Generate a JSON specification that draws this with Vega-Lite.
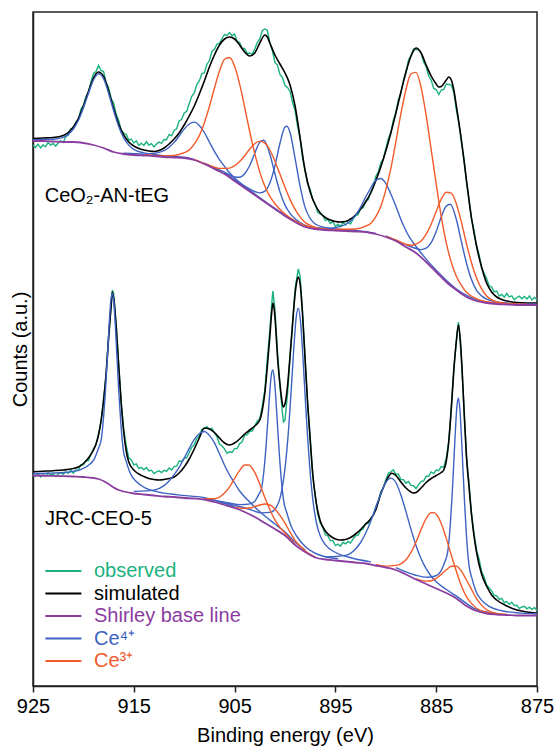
{
"$schema":"https://vega.github.io/schema/vega-lite/v6.json",
"width":504,"height":674,
"autosize":{"type":"none"},
"padding":{"left":33,"top":12,"right":21,"bottom":61},
"config":{"font":"Liberation Sans","view":{"stroke":"#222","strokeWidth":1.5},"axis":{"grid":false}},
"datasets":{
"obs":[
{"s":"t","e":925,"v":541},{"s":"t","e":924.75,"v":538.6},{"s":"t","e":924.5,"v":541.8},{"s":"t","e":924.25,"v":538.2},{"s":"t","e":924,"v":541},{"s":"t","e":923.75,"v":539.2},{"s":"t","e":923.5,"v":543.5},{"s":"t","e":923.25,"v":540.8},{"s":"t","e":923,"v":542.5},{"s":"t","e":922.75,"v":539.8},{"s":"t","e":922.5,"v":543},{"s":"t","e":922.25,"v":545.3},{"s":"t","e":922,"v":543.5},{"s":"t","e":921.75,"v":549.6},{"s":"t","e":921.5,"v":550.8},{"s":"t","e":921.25,"v":557.4},{"s":"t","e":921,"v":557},{"s":"t","e":920.75,"v":563.8},{"s":"t","e":920.5,"v":566.5},{"s":"t","e":920.25,"v":576.8},{"s":"t","e":920,"v":580.5},{"s":"t","e":919.75,"v":589.5},{"s":"t","e":919.5,"v":594},{"s":"t","e":919.25,"v":604},{"s":"t","e":919,"v":612.5},{"s":"t","e":918.75,"v":614.5},{"s":"t","e":918.5,"v":620.5},{"s":"t","e":918.25,"v":615.5},{"s":"t","e":918,"v":614.5},{"s":"t","e":917.75,"v":603.5},{"s":"t","e":917.5,"v":598.5},{"s":"t","e":917.25,"v":587.5},{"s":"t","e":917,"v":583},{"s":"t","e":916.75,"v":571.7},{"s":"t","e":916.5,"v":565.5},{"s":"t","e":916.25,"v":555.7},{"s":"t","e":916,"v":553},{"s":"t","e":915.75,"v":551.5},{"s":"t","e":915.5,"v":546},{"s":"t","e":915.25,"v":547},{"s":"t","e":915,"v":543},{"s":"t","e":914.75,"v":545.2},{"s":"t","e":914.5,"v":540.5},{"s":"t","e":914.25,"v":542.7},{"s":"t","e":914,"v":540.5},{"s":"t","e":913.75,"v":544.2},{"s":"t","e":913.5,"v":541},{"s":"t","e":913.25,"v":542.4},{"s":"t","e":913,"v":539},{"s":"t","e":912.75,"v":541.9},{"s":"t","e":912.5,"v":544},{"s":"t","e":912.25,"v":542.7},{"s":"t","e":912,"v":546.5},{"s":"t","e":911.75,"v":546.2},{"s":"t","e":911.5,"v":551.5},{"s":"t","e":911.25,"v":550.2},{"s":"t","e":911,"v":555.5},{"s":"t","e":910.75,"v":557.2},{"s":"t","e":910.5,"v":565},{"s":"t","e":910.25,"v":566.7},{"s":"t","e":910,"v":573},{"s":"t","e":909.75,"v":574.7},{"s":"t","e":909.5,"v":582.5},{"s":"t","e":909.25,"v":589.7},{"s":"t","e":909,"v":593},{"s":"t","e":908.75,"v":601.5},{"s":"t","e":908.5,"v":605},{"s":"t","e":908.25,"v":612.5},{"s":"t","e":908,"v":613},{"s":"t","e":907.75,"v":621.5},{"s":"t","e":907.5,"v":625.5},{"s":"t","e":907.25,"v":634.5},{"s":"t","e":907,"v":636.5},{"s":"t","e":906.75,"v":642},{"s":"t","e":906.5,"v":642.5},{"s":"t","e":906.25,"v":647.5},{"s":"t","e":906,"v":651.5},{"s":"t","e":905.75,"v":650.5},{"s":"t","e":905.5,"v":653.5},{"s":"t","e":905.25,"v":650.3},{"s":"t","e":905,"v":652},{"s":"t","e":904.75,"v":644.5},{"s":"t","e":904.5,"v":643.5},{"s":"t","e":904.25,"v":637.5},{"s":"t","e":904,"v":637.5},{"s":"t","e":903.75,"v":632.5},{"s":"t","e":903.5,"v":633},{"s":"t","e":903.25,"v":631.5},{"s":"t","e":903,"v":637},{"s":"t","e":902.75,"v":643.5},{"s":"t","e":902.5,"v":647},{"s":"t","e":902.25,"v":655.5},{"s":"t","e":902,"v":657},{"s":"t","e":901.75,"v":655.5},{"s":"t","e":901.5,"v":643},{"s":"t","e":901.25,"v":635.5},{"s":"t","e":901,"v":623.5},{"s":"t","e":900.75,"v":621},{"s":"t","e":900.5,"v":611.5},{"s":"t","e":900.25,"v":608.5},{"s":"t","e":900,"v":600.5},{"s":"t","e":899.75,"v":598.5},{"s":"t","e":899.5,"v":594.5},{"s":"t","e":899.25,"v":583.5},{"s":"t","e":899,"v":575.5},{"s":"t","e":898.75,"v":559.5},{"s":"t","e":898.5,"v":547},{"s":"t","e":898.25,"v":527.5},{"s":"t","e":898,"v":515.5},{"s":"t","e":897.75,"v":502},{"s":"t","e":897.5,"v":496.5},{"s":"t","e":897.25,"v":486.5},{"s":"t","e":897,"v":482},{"s":"t","e":896.75,"v":473.5},{"s":"t","e":896.5,"v":472},{"s":"t","e":896.25,"v":470.5},{"s":"t","e":896,"v":465.5},{"s":"t","e":895.75,"v":466.3},{"s":"t","e":895.5,"v":462.5},{"s":"t","e":895.25,"v":464.5},{"s":"t","e":895,"v":459.5},{"s":"t","e":894.75,"v":461.7},{"s":"t","e":894.5,"v":459.5},{"s":"t","e":894.25,"v":463.7},{"s":"t","e":894,"v":461},{"s":"t","e":893.75,"v":463.8},{"s":"t","e":893.5,"v":462},{"s":"t","e":893.25,"v":466.8},{"s":"t","e":893,"v":470.5},{"s":"t","e":892.75,"v":471.3},{"s":"t","e":892.5,"v":477},{"s":"t","e":892.25,"v":478.3},{"s":"t","e":892,"v":485},{"s":"t","e":891.75,"v":486.3},{"s":"t","e":891.5,"v":494},{"s":"t","e":891.25,"v":498.7},{"s":"t","e":891,"v":509.5},{"s":"t","e":890.75,"v":514},{"s":"t","e":890.5,"v":523},{"s":"t","e":890.25,"v":527},{"s":"t","e":890,"v":537},{"s":"t","e":889.75,"v":547.2},{"s":"t","e":889.5,"v":553.5},{"s":"t","e":889.25,"v":565.7},{"s":"t","e":889,"v":573},{"s":"t","e":888.75,"v":586.5},{"s":"t","e":888.5,"v":593},{"s":"t","e":888.25,"v":605.5},{"s":"t","e":888,"v":613.5},{"s":"t","e":887.75,"v":626},{"s":"t","e":887.5,"v":630.5},{"s":"t","e":887.25,"v":637},{"s":"t","e":887,"v":636.5},{"s":"t","e":886.75,"v":636.5},{"s":"t","e":886.5,"v":633.5},{"s":"t","e":886.25,"v":624},{"s":"t","e":886,"v":619.5},{"s":"t","e":885.75,"v":610},{"s":"t","e":885.5,"v":606},{"s":"t","e":885.25,"v":597.5},{"s":"t","e":885,"v":596.5},{"s":"t","e":884.75,"v":591.5},{"s":"t","e":884.5,"v":596},{"s":"t","e":884.25,"v":596.5},{"s":"t","e":884,"v":602},{"s":"t","e":883.75,"v":601.5},{"s":"t","e":883.5,"v":601},{"s":"t","e":883.25,"v":593.5},{"s":"t","e":883,"v":576},{"s":"t","e":882.75,"v":562.3},{"s":"t","e":882.5,"v":543.5},{"s":"t","e":882.25,"v":527.3},{"s":"t","e":882,"v":504},{"s":"t","e":881.75,"v":486.7},{"s":"t","e":881.5,"v":467},{"s":"t","e":881.25,"v":456.2},{"s":"t","e":881,"v":440.5},{"s":"t","e":880.75,"v":431.5},{"s":"t","e":880.5,"v":418.5},{"s":"t","e":880.25,"v":413},{"s":"t","e":880,"v":407.5},{"s":"t","e":879.75,"v":400.2},{"s":"t","e":879.5,"v":399},{"s":"t","e":879.25,"v":394.2},{"s":"t","e":879,"v":395},{"s":"t","e":878.75,"v":389.9},{"s":"t","e":878.5,"v":391.5},{"s":"t","e":878.25,"v":388.9},{"s":"t","e":878,"v":392.5},{"s":"t","e":877.75,"v":389.1},{"s":"t","e":877.5,"v":390.2},{"s":"t","e":877.25,"v":386.3},{"s":"t","e":877,"v":388.5},{"s":"t","e":876.75,"v":389.8},{"s":"t","e":876.5,"v":387.2},{"s":"t","e":876.25,"v":389.6},{"s":"t","e":876,"v":387},{"s":"t","e":875.75,"v":390},{"s":"t","e":875.5,"v":386},{"s":"t","e":875.25,"v":388.5},{"s":"t","e":875,"v":386.5},
{"s":"b","e":925,"v":211.5},{"s":"b","e":924.75,"v":209.6},{"s":"b","e":924.5,"v":212.2},{"s":"b","e":924.25,"v":209.1},{"s":"b","e":924,"v":211.2},{"s":"b","e":923.75,"v":209.7},{"s":"b","e":923.5,"v":213.1},{"s":"b","e":923.25,"v":210.8},{"s":"b","e":923,"v":212.1},{"s":"b","e":922.75,"v":209.6},{"s":"b","e":922.5,"v":211.9},{"s":"b","e":922.25,"v":213.4},{"s":"b","e":922,"v":211.7},{"s":"b","e":921.75,"v":214.2},{"s":"b","e":921.5,"v":212.7},{"s":"b","e":921.25,"v":215.6},{"s":"b","e":921,"v":212.9},{"s":"b","e":920.75,"v":216.1},{"s":"b","e":920.5,"v":215.8},{"s":"b","e":920.25,"v":221.2},{"s":"b","e":920,"v":221.1},{"s":"b","e":919.75,"v":225.3},{"s":"b","e":919.5,"v":225.5},{"s":"b","e":919.25,"v":231.8},{"s":"b","e":919,"v":237.2},{"s":"b","e":918.75,"v":241.2},{"s":"b","e":918.5,"v":252.2},{"s":"b","e":918.25,"v":264.2},{"s":"b","e":918,"v":286.6},{"s":"b","e":917.75,"v":310.9},{"s":"b","e":917.5,"v":349.4},{"s":"b","e":917.25,"v":380.3},{"s":"b","e":917.125,"v":396},{"s":"b","e":917,"v":392},{"s":"b","e":916.75,"v":361.6},{"s":"b","e":916.5,"v":322.8},{"s":"b","e":916.25,"v":283.5},{"s":"b","e":916,"v":257},{"s":"b","e":915.75,"v":240.2},{"s":"b","e":915.5,"v":228.2},{"s":"b","e":915.25,"v":226.2},{"s":"b","e":915,"v":221.2},{"s":"b","e":914.75,"v":222.1},{"s":"b","e":914.5,"v":217.4},{"s":"b","e":914.25,"v":218.6},{"s":"b","e":914,"v":216.3},{"s":"b","e":913.75,"v":218.5},{"s":"b","e":913.5,"v":215.1},{"s":"b","e":913.25,"v":215.8},{"s":"b","e":913,"v":212.5},{"s":"b","e":912.75,"v":214.2},{"s":"b","e":912.5,"v":215.2},{"s":"b","e":912.25,"v":213.4},{"s":"b","e":912,"v":215.7},{"s":"b","e":911.75,"v":214.7},{"s":"b","e":911.5,"v":218.1},{"s":"b","e":911.25,"v":216.1},{"s":"b","e":911,"v":219.4},{"s":"b","e":910.75,"v":219.8},{"s":"b","e":910.5,"v":225},{"s":"b","e":910.25,"v":224.6},{"s":"b","e":910,"v":227.8},{"s":"b","e":909.75,"v":228.2},{"s":"b","e":909.5,"v":233.5},{"s":"b","e":909.25,"v":238.9},{"s":"b","e":909,"v":241.2},{"s":"b","e":908.75,"v":247.7},{"s":"b","e":908.5,"v":250.2},{"s":"b","e":908.25,"v":256.6},{"s":"b","e":908,"v":257.4},{"s":"b","e":907.75,"v":259.4},{"s":"b","e":907.5,"v":256.8},{"s":"b","e":907.25,"v":257.7},{"s":"b","e":907,"v":253.1},{"s":"b","e":906.75,"v":249.5},{"s":"b","e":906.5,"v":242},{"s":"b","e":906.25,"v":240},{"s":"b","e":906,"v":237.2},{"s":"b","e":905.75,"v":232.7},{"s":"b","e":905.5,"v":234.2},{"s":"b","e":905.25,"v":233.5},{"s":"b","e":905,"v":237.6},{"s":"b","e":904.75,"v":237.4},{"s":"b","e":904.5,"v":242.4},{"s":"b","e":904.25,"v":244.3},{"s":"b","e":904,"v":251},{"s":"b","e":903.75,"v":251.1},{"s":"b","e":903.5,"v":254.8},{"s":"b","e":903.25,"v":255},{"s":"b","e":903,"v":260},{"s":"b","e":902.75,"v":265},{"s":"b","e":902.5,"v":267.2},{"s":"b","e":902.25,"v":280.2},{"s":"b","e":902,"v":296.2},{"s":"b","e":901.75,"v":327.6},{"s":"b","e":901.5,"v":356.4},{"s":"b","e":901.25,"v":390.4},{"s":"b","e":901.2,"v":395},{"s":"b","e":901,"v":376.8},{"s":"b","e":900.75,"v":335},{"s":"b","e":900.5,"v":299.6},{"s":"b","e":900.25,"v":272.8},{"s":"b","e":900.15,"v":264},{"s":"b","e":900,"v":266},{"s":"b","e":899.75,"v":292},{"s":"b","e":899.5,"v":329.2},{"s":"b","e":899.25,"v":362.2},{"s":"b","e":899,"v":397.2},{"s":"b","e":898.75,"v":413.2},{"s":"b","e":898.68,"v":417},{"s":"b","e":898.5,"v":409.6},{"s":"b","e":898.25,"v":372.4},{"s":"b","e":898,"v":327.4},{"s":"b","e":897.75,"v":281.8},{"s":"b","e":897.5,"v":248},{"s":"b","e":897.25,"v":211.6},{"s":"b","e":897,"v":190.8},{"s":"b","e":896.75,"v":172},{"s":"b","e":896.5,"v":163},{"s":"b","e":896.25,"v":158.7},{"s":"b","e":896,"v":151.2},{"s":"b","e":895.75,"v":150.2},{"s":"b","e":895.5,"v":145.2},{"s":"b","e":895.25,"v":145.6},{"s":"b","e":895,"v":140.4},{"s":"b","e":894.75,"v":141.9},{"s":"b","e":894.5,"v":139.8},{"s":"b","e":894.25,"v":143.7},{"s":"b","e":894,"v":142.1},{"s":"b","e":893.75,"v":144.6},{"s":"b","e":893.5,"v":143},{"s":"b","e":893.25,"v":147},{"s":"b","e":893,"v":150.2},{"s":"b","e":892.75,"v":150.9},{"s":"b","e":892.5,"v":155.7},{"s":"b","e":892.25,"v":156.9},{"s":"b","e":892,"v":162.6},{"s":"b","e":891.75,"v":162.4},{"s":"b","e":891.5,"v":167.4},{"s":"b","e":891.25,"v":170.3},{"s":"b","e":891,"v":179},{"s":"b","e":890.75,"v":184.8},{"s":"b","e":890.5,"v":194.3},{"s":"b","e":890.25,"v":198.2},{"s":"b","e":890,"v":206},{"s":"b","e":889.75,"v":212.7},{"s":"b","e":889.5,"v":214.2},{"s":"b","e":889.25,"v":216.1},{"s":"b","e":889,"v":211.7},{"s":"b","e":888.75,"v":211.8},{"s":"b","e":888.5,"v":206.4},{"s":"b","e":888.25,"v":206.4},{"s":"b","e":888,"v":202.8},{"s":"b","e":887.75,"v":204.5},{"s":"b","e":887.5,"v":200.6},{"s":"b","e":887.25,"v":200.3},{"s":"b","e":887,"v":197.5},{"s":"b","e":886.75,"v":201.4},{"s":"b","e":886.5,"v":204.7},{"s":"b","e":886.25,"v":205.1},{"s":"b","e":886,"v":209.7},{"s":"b","e":885.75,"v":209.7},{"s":"b","e":885.5,"v":214.1},{"s":"b","e":885.25,"v":212.4},{"s":"b","e":885,"v":215.9},{"s":"b","e":884.75,"v":215.3},{"s":"b","e":884.5,"v":219.5},{"s":"b","e":884.25,"v":218.6},{"s":"b","e":884,"v":227.8},{"s":"b","e":883.75,"v":244.5},{"s":"b","e":883.5,"v":278},{"s":"b","e":883.25,"v":317.2},{"s":"b","e":883,"v":344.7},{"s":"b","e":882.8,"v":364},{"s":"b","e":882.75,"v":361.2},{"s":"b","e":882.5,"v":327.2},{"s":"b","e":882.25,"v":279.7},{"s":"b","e":882,"v":230.2},{"s":"b","e":881.75,"v":203.1},{"s":"b","e":881.5,"v":172.4},{"s":"b","e":881.25,"v":152.9},{"s":"b","e":881,"v":135.8},{"s":"b","e":880.75,"v":127},{"s":"b","e":880.5,"v":114.6},{"s":"b","e":880.25,"v":109.3},{"s":"b","e":880,"v":101},{"s":"b","e":879.75,"v":98},{"s":"b","e":879.5,"v":95.2},{"s":"b","e":879.25,"v":90.7},{"s":"b","e":879,"v":90.2},{"s":"b","e":878.75,"v":86.6},{"s":"b","e":878.5,"v":87.6},{"s":"b","e":878.25,"v":83.3},{"s":"b","e":878,"v":84.4},{"s":"b","e":877.75,"v":81.6},{"s":"b","e":877.5,"v":83.7},{"s":"b","e":877.25,"v":80.4},{"s":"b","e":877,"v":80.8},{"s":"b","e":876.75,"v":77.5},{"s":"b","e":876.5,"v":79},{"s":"b","e":876.25,"v":79.7},{"s":"b","e":876,"v":77.2},{"s":"b","e":875.75,"v":78.8},{"s":"b","e":875.5,"v":76.5},{"s":"b","e":875.25,"v":78.6},{"s":"b","e":875,"v":75.1}
],
"sim":[
{"s":"t","e":925,"v":547.5},{"s":"t","e":924,"v":548},{"s":"t","e":923,"v":548.5},{"s":"t","e":922,"v":550.5},{"s":"t","e":921,"v":559},{"s":"t","e":920.5,"v":567.5},{"s":"t","e":920,"v":580},{"s":"t","e":919.5,"v":594.5},{"s":"t","e":919,"v":608},{"s":"t","e":918.5,"v":614},{"s":"t","e":918,"v":609.5},{"s":"t","e":917.5,"v":595},{"s":"t","e":917,"v":577.5},{"s":"t","e":916.5,"v":562},{"s":"t","e":916,"v":551},{"s":"t","e":915.5,"v":544},{"s":"t","e":915,"v":540},{"s":"t","e":914.5,"v":537.5},{"s":"t","e":914,"v":536},{"s":"t","e":913.5,"v":535},{"s":"t","e":913,"v":534.5},{"s":"t","e":912.5,"v":535.5},{"s":"t","e":912,"v":538},{"s":"t","e":911.5,"v":542},{"s":"t","e":911,"v":547},{"s":"t","e":910.5,"v":553},{"s":"t","e":910,"v":561},{"s":"t","e":909.5,"v":570},{"s":"t","e":909,"v":580},{"s":"t","e":908.5,"v":592},{"s":"t","e":908,"v":605},{"s":"t","e":907.5,"v":619},{"s":"t","e":907,"v":631},{"s":"t","e":906.5,"v":641},{"s":"t","e":906,"v":647},{"s":"t","e":905.5,"v":649},{"s":"t","e":905,"v":647},{"s":"t","e":904.5,"v":641},{"s":"t","e":904,"v":634},{"s":"t","e":903.5,"v":630},{"s":"t","e":903,"v":633},{"s":"t","e":902.5,"v":643},{"s":"t","e":902,"v":651},{"s":"t","e":901.75,"v":649},{"s":"t","e":901.5,"v":643},{"s":"t","e":901,"v":631},{"s":"t","e":900.5,"v":622},{"s":"t","e":900,"v":613},{"s":"t","e":899.5,"v":601},{"s":"t","e":899,"v":580},{"s":"t","e":898.5,"v":548},{"s":"t","e":898,"v":515},{"s":"t","e":897.5,"v":494},{"s":"t","e":897,"v":481},{"s":"t","e":896.5,"v":473},{"s":"t","e":896,"v":468.5},{"s":"t","e":895.5,"v":466},{"s":"t","e":895,"v":464.5},{"s":"t","e":894.5,"v":464},{"s":"t","e":894,"v":464.5},{"s":"t","e":893.5,"v":467},{"s":"t","e":893,"v":471},{"s":"t","e":892.5,"v":477},{"s":"t","e":892,"v":484},{"s":"t","e":891.5,"v":493},{"s":"t","e":891,"v":505},{"s":"t","e":890.5,"v":519},{"s":"t","e":890,"v":535},{"s":"t","e":889.5,"v":553},{"s":"t","e":889,"v":573},{"s":"t","e":888.5,"v":594},{"s":"t","e":888,"v":614},{"s":"t","e":887.5,"v":630},{"s":"t","e":887,"v":638},{"s":"t","e":886.5,"v":633},{"s":"t","e":886,"v":621},{"s":"t","e":885.5,"v":610},{"s":"t","e":885,"v":602},{"s":"t","e":884.75,"v":599},{"s":"t","e":884.5,"v":599.5},{"s":"t","e":884,"v":606},{"s":"t","e":883.75,"v":609},{"s":"t","e":883.5,"v":606},{"s":"t","e":883.25,"v":596},{"s":"t","e":883,"v":580},{"s":"t","e":882.5,"v":546},{"s":"t","e":882,"v":506},{"s":"t","e":881.5,"v":468},{"s":"t","e":881,"v":440},{"s":"t","e":880.5,"v":419},{"s":"t","e":880,"v":403},{"s":"t","e":879.5,"v":394},{"s":"t","e":879,"v":389},{"s":"t","e":878.5,"v":386.5},{"s":"t","e":878,"v":385},{"s":"t","e":877,"v":383.5},{"s":"t","e":876,"v":383},{"s":"t","e":875,"v":383},
{"s":"b","e":925,"v":214.3},{"s":"b","e":924,"v":214.8},{"s":"b","e":923,"v":215.3},{"s":"b","e":922,"v":216},{"s":"b","e":921,"v":217.5},{"s":"b","e":920.5,"v":219},{"s":"b","e":920,"v":222.5},{"s":"b","e":919.5,"v":228},{"s":"b","e":919,"v":236},{"s":"b","e":918.75,"v":242},{"s":"b","e":918.5,"v":251},{"s":"b","e":918.25,"v":265},{"s":"b","e":918,"v":285},{"s":"b","e":917.75,"v":312},{"s":"b","e":917.5,"v":348},{"s":"b","e":917.25,"v":380},{"s":"b","e":917.13,"v":394},{"s":"b","e":917,"v":388},{"s":"b","e":916.75,"v":360},{"s":"b","e":916.5,"v":320},{"s":"b","e":916.25,"v":283},{"s":"b","e":916,"v":254},{"s":"b","e":915.75,"v":235},{"s":"b","e":915.5,"v":224},{"s":"b","e":915,"v":216},{"s":"b","e":914.5,"v":212},{"s":"b","e":914,"v":209.5},{"s":"b","e":913.5,"v":207.5},{"s":"b","e":913,"v":206.5},{"s":"b","e":912.5,"v":206},{"s":"b","e":912,"v":206.5},{"s":"b","e":911.5,"v":207.5},{"s":"b","e":911,"v":209},{"s":"b","e":910.5,"v":213},{"s":"b","e":910,"v":219},{"s":"b","e":909.5,"v":227},{"s":"b","e":909,"v":237},{"s":"b","e":908.5,"v":248},{"s":"b","e":908,"v":258},{"s":"b","e":907.5,"v":257},{"s":"b","e":907,"v":253.5},{"s":"b","e":906.5,"v":248},{"s":"b","e":906,"v":243},{"s":"b","e":905.5,"v":241},{"s":"b","e":905,"v":243},{"s":"b","e":904.5,"v":247},{"s":"b","e":904,"v":252},{"s":"b","e":903.5,"v":256},{"s":"b","e":903,"v":260},{"s":"b","e":902.5,"v":266},{"s":"b","e":902.25,"v":276},{"s":"b","e":902,"v":293},{"s":"b","e":901.75,"v":320},{"s":"b","e":901.5,"v":350},{"s":"b","e":901.35,"v":370},{"s":"b","e":901.2,"v":383},{"s":"b","e":901.05,"v":375},{"s":"b","e":900.9,"v":355},{"s":"b","e":900.75,"v":330},{"s":"b","e":900.5,"v":302},{"s":"b","e":900.3,"v":285},{"s":"b","e":900.17,"v":279},{"s":"b","e":900,"v":282},{"s":"b","e":899.75,"v":300},{"s":"b","e":899.5,"v":330},{"s":"b","e":899.25,"v":362},{"s":"b","e":899,"v":392},{"s":"b","e":898.8,"v":406},{"s":"b","e":898.68,"v":409},{"s":"b","e":898.5,"v":402},{"s":"b","e":898.25,"v":370},{"s":"b","e":898,"v":325},{"s":"b","e":897.75,"v":282},{"s":"b","e":897.5,"v":246},{"s":"b","e":897.25,"v":212},{"s":"b","e":897,"v":190},{"s":"b","e":896.75,"v":175},{"s":"b","e":896.5,"v":165},{"s":"b","e":896,"v":155},{"s":"b","e":895.5,"v":150},{"s":"b","e":895,"v":147},{"s":"b","e":894.5,"v":146},{"s":"b","e":894,"v":146.5},{"s":"b","e":893.5,"v":148.5},{"s":"b","e":893,"v":152},{"s":"b","e":892.5,"v":156.5},{"s":"b","e":892,"v":162},{"s":"b","e":891.5,"v":167},{"s":"b","e":891,"v":176},{"s":"b","e":890.5,"v":192},{"s":"b","e":890,"v":204},{"s":"b","e":889.75,"v":209},{"s":"b","e":889.4,"v":212.7},{"s":"b","e":889,"v":210.5},{"s":"b","e":888.5,"v":204},{"s":"b","e":888,"v":198},{"s":"b","e":887.5,"v":194},{"s":"b","e":887.3,"v":193},{"s":"b","e":887,"v":193.5},{"s":"b","e":886.5,"v":198},{"s":"b","e":886,"v":203.5},{"s":"b","e":885.5,"v":207.5},{"s":"b","e":885,"v":210.5},{"s":"b","e":884.5,"v":213.5},{"s":"b","e":884.25,"v":216},{"s":"b","e":884,"v":225},{"s":"b","e":883.75,"v":245},{"s":"b","e":883.5,"v":278},{"s":"b","e":883.25,"v":316},{"s":"b","e":883,"v":345},{"s":"b","e":882.8,"v":361},{"s":"b","e":882.6,"v":345},{"s":"b","e":882.4,"v":310},{"s":"b","e":882.2,"v":268},{"s":"b","e":882,"v":230},{"s":"b","e":881.75,"v":200},{"s":"b","e":881.5,"v":172},{"s":"b","e":881.25,"v":150},{"s":"b","e":881,"v":134},{"s":"b","e":880.5,"v":112},{"s":"b","e":880,"v":100},{"s":"b","e":879.5,"v":91},{"s":"b","e":879,"v":86},{"s":"b","e":878,"v":80},{"s":"b","e":877,"v":76},{"s":"b","e":876,"v":74},{"s":"b","e":875,"v":72.7}
],
"base":[
{"s":"t","e":925,"v":545},{"s":"t","e":924,"v":545},{"s":"t","e":923,"v":544.5},{"s":"t","e":922,"v":544},{"s":"t","e":921,"v":544},{"s":"t","e":920,"v":543},{"s":"t","e":919,"v":541},{"s":"t","e":918,"v":538},{"s":"t","e":917,"v":534},{"s":"t","e":916,"v":532},{"s":"t","e":915,"v":531},{"s":"t","e":914,"v":530.5},{"s":"t","e":913,"v":530},{"s":"t","e":912,"v":529},{"s":"t","e":911,"v":528.5},{"s":"t","e":910,"v":528},{"s":"t","e":909,"v":526},{"s":"t","e":908,"v":522},{"s":"t","e":907,"v":517},{"s":"t","e":906,"v":512},{"s":"t","e":905,"v":505},{"s":"t","e":904,"v":498},{"s":"t","e":903,"v":491},{"s":"t","e":902,"v":484},{"s":"t","e":901,"v":477},{"s":"t","e":900,"v":470},{"s":"t","e":899,"v":464},{"s":"t","e":898,"v":459},{"s":"t","e":897,"v":457},{"s":"t","e":896,"v":456},{"s":"t","e":895,"v":455.5},{"s":"t","e":894,"v":455},{"s":"t","e":893,"v":454.5},{"s":"t","e":892,"v":454},{"s":"t","e":891,"v":452},{"s":"t","e":890,"v":449},{"s":"t","e":889,"v":445},{"s":"t","e":888,"v":439},{"s":"t","e":887,"v":433},{"s":"t","e":886,"v":424},{"s":"t","e":885,"v":414},{"s":"t","e":884,"v":404},{"s":"t","e":883,"v":396},{"s":"t","e":882,"v":389},{"s":"t","e":881,"v":385},{"s":"t","e":880,"v":383},{"s":"t","e":879,"v":382},{"s":"t","e":878,"v":381.5},{"s":"t","e":877,"v":381},{"s":"t","e":876,"v":381},{"s":"t","e":875,"v":381},
{"s":"b","e":925,"v":210.5},{"s":"b","e":923,"v":210.2},{"s":"b","e":921,"v":209.5},{"s":"b","e":920,"v":209},{"s":"b","e":919,"v":208},{"s":"b","e":918.5,"v":207},{"s":"b","e":918,"v":205},{"s":"b","e":917.5,"v":202},{"s":"b","e":917,"v":198.5},{"s":"b","e":916.5,"v":196},{"s":"b","e":916,"v":194.5},{"s":"b","e":915,"v":192.5},{"s":"b","e":914,"v":191.5},{"s":"b","e":913,"v":190.5},{"s":"b","e":912,"v":189.5},{"s":"b","e":911,"v":189},{"s":"b","e":910,"v":188},{"s":"b","e":909,"v":187.5},{"s":"b","e":908,"v":186.5},{"s":"b","e":907,"v":184},{"s":"b","e":906,"v":181},{"s":"b","e":905,"v":178},{"s":"b","e":904,"v":174},{"s":"b","e":903,"v":169},{"s":"b","e":902,"v":163},{"s":"b","e":901,"v":157},{"s":"b","e":900,"v":150.5},{"s":"b","e":899,"v":141},{"s":"b","e":898,"v":134},{"s":"b","e":897,"v":128.5},{"s":"b","e":896,"v":126.5},{"s":"b","e":895,"v":125.5},{"s":"b","e":894,"v":124.5},{"s":"b","e":893,"v":123.5},{"s":"b","e":892,"v":122.5},{"s":"b","e":891,"v":120.5},{"s":"b","e":890,"v":118.5},{"s":"b","e":889,"v":116},{"s":"b","e":888,"v":111.5},{"s":"b","e":887,"v":106.5},{"s":"b","e":886,"v":102},{"s":"b","e":885,"v":97.5},{"s":"b","e":884,"v":93},{"s":"b","e":883,"v":87.5},{"s":"b","e":882,"v":80},{"s":"b","e":881,"v":75},{"s":"b","e":880,"v":72.5},{"s":"b","e":879,"v":71.5},{"s":"b","e":878,"v":71},{"s":"b","e":877,"v":70.5},{"s":"b","e":875,"v":70.5}
],
"ce4":[
{"s":"B1","e":925,"v":546.2},{"s":"B1","e":924,"v":546.5},{"s":"B1","e":923,"v":546.8},{"s":"B1","e":922,"v":548.7},{"s":"B1","e":921,"v":557},{"s":"B1","e":920.5,"v":565.5},{"s":"B1","e":920,"v":578.1},{"s":"B1","e":919.5,"v":592.6},{"s":"B1","e":919,"v":606},{"s":"B1","e":918.5,"v":612.2},{"s":"B1","e":918,"v":607.4},{"s":"B1","e":917.5,"v":592.8},{"s":"B1","e":917,"v":575.2},{"s":"B1","e":916.5,"v":559.6},{"s":"B1","e":916,"v":548.1},{"s":"B1","e":915.5,"v":540.9},{"s":"B1","e":915,"v":536.6},{"s":"B1","e":914,"v":533.1},{"s":"B1","e":913,"v":531.7},{"s":"B1","e":912,"v":530.2},{"s":"B1","e":911,"v":529.4},{"s":"B1","e":910,"v":528.7},{"s":"B1","e":909,"v":526.5},
{"s":"B2","e":916,"v":532.7},{"s":"B2","e":914,"v":531.9},{"s":"B2","e":913,"v":532.6},{"s":"B2","e":912,"v":535.3},{"s":"B2","e":911.5,"v":538.8},{"s":"B2","e":911,"v":543.6},{"s":"B2","e":910.5,"v":550},{"s":"B2","e":910,"v":556.9},{"s":"B2","e":909.5,"v":562},{"s":"B2","e":909,"v":563.9},{"s":"B2","e":908.5,"v":560.6},{"s":"B2","e":908,"v":553.5},{"s":"B2","e":907.5,"v":544},{"s":"B2","e":907,"v":534.6},{"s":"B2","e":906.5,"v":526.4},{"s":"B2","e":906,"v":519.6},{"s":"B2","e":905.5,"v":513.2},{"s":"B2","e":905,"v":508},{"s":"B2","e":904,"v":499.5},{"s":"B2","e":903,"v":492},{"s":"B2","e":901,"v":477.6},{"s":"B2","e":899,"v":464.4},
{"s":"B3","e":908,"v":522.8},{"s":"B3","e":907,"v":518.1},{"s":"B3","e":906,"v":513.8},{"s":"B3","e":905,"v":509},{"s":"B3","e":904.5,"v":508.8},{"s":"B3","e":904,"v":512.2},{"s":"B3","e":903.5,"v":520.5},{"s":"B3","e":903,"v":532.8},{"s":"B3","e":902.5,"v":543.8},{"s":"B3","e":902.1,"v":545.7},{"s":"B3","e":901.5,"v":531.7},{"s":"B3","e":901,"v":512.3},{"s":"B3","e":900.5,"v":494.1},{"s":"B3","e":900,"v":480.9},{"s":"B3","e":899.5,"v":472.7},{"s":"B3","e":899,"v":467.2},{"s":"B3","e":898,"v":460.6},{"s":"B3","e":897,"v":458},{"s":"B3","e":895,"v":456.1},{"s":"B3","e":893,"v":455},
{"s":"B4","e":906,"v":512.9},{"s":"B4","e":905,"v":506.4},{"s":"B4","e":904,"v":499.9},{"s":"B4","e":903,"v":494.5},{"s":"B4","e":902.5,"v":493.1},{"s":"B4","e":902,"v":494.9},{"s":"B4","e":901.5,"v":503},{"s":"B4","e":901,"v":520.2},{"s":"B4","e":900.5,"v":542.7},{"s":"B4","e":900,"v":558.9},{"s":"B4","e":899.8,"v":559.8},{"s":"B4","e":899.5,"v":553.5},{"s":"B4","e":899,"v":527.7},{"s":"B4","e":898.5,"v":499.7},{"s":"B4","e":898,"v":478.4},{"s":"B4","e":897.5,"v":467.5},{"s":"B4","e":897,"v":462},{"s":"B4","e":896,"v":458.4},{"s":"B4","e":895,"v":457},{"s":"B4","e":893,"v":455.5},{"s":"B4","e":891,"v":452.6},
{"s":"B5","e":898,"v":460},{"s":"B5","e":896,"v":457.7},{"s":"B5","e":895,"v":458.4},{"s":"B5","e":894,"v":461.5},{"s":"B5","e":893.5,"v":465},{"s":"B5","e":893,"v":470.7},{"s":"B5","e":892.5,"v":478.9},{"s":"B5","e":892,"v":488.8},{"s":"B5","e":891.5,"v":498},{"s":"B5","e":891,"v":505.6},{"s":"B5","e":890.5,"v":507.5},{"s":"B5","e":890,"v":502.6},{"s":"B5","e":889.5,"v":492},{"s":"B5","e":889,"v":479.8},{"s":"B5","e":888.5,"v":466.6},{"s":"B5","e":888,"v":455.2},{"s":"B5","e":887.5,"v":446.3},{"s":"B5","e":887,"v":439.5},{"s":"B5","e":886,"v":426.9},{"s":"B5","e":885,"v":415.7},{"s":"B5","e":883,"v":397},{"s":"B5","e":880,"v":383.6},{"s":"B5","e":877,"v":381.3},
{"s":"B6","e":890,"v":450.1},{"s":"B6","e":888,"v":441.3},{"s":"B6","e":887,"v":437.5},{"s":"B6","e":886.5,"v":436.4},{"s":"B6","e":886,"v":437.8},{"s":"B6","e":885.5,"v":443.3},{"s":"B6","e":885,"v":454.5},{"s":"B6","e":884.5,"v":468.9},{"s":"B6","e":884,"v":479.9},{"s":"B6","e":883.6,"v":481.8},{"s":"B6","e":883,"v":466.5},{"s":"B6","e":882.5,"v":444.3},{"s":"B6","e":882,"v":423},{"s":"B6","e":881.5,"v":406.4},{"s":"B6","e":881,"v":395.6},{"s":"B6","e":880.5,"v":390.1},{"s":"B6","e":880,"v":386.8},{"s":"B6","e":879,"v":384.1},{"s":"B6","e":878,"v":383},{"s":"B6","e":876,"v":381.9},{"s":"B6","e":875,"v":381.8},
{"s":"b1","e":925,"v":212.5},{"s":"b1","e":923.63,"v":212.75},{"s":"b1","e":921.63,"v":213.8},{"s":"b1","e":920.33,"v":216.2},{"s":"b1","e":919.53,"v":220.5},{"s":"b1","e":918.93,"v":226.9},{"s":"b1","e":918.53,"v":237.1},{"s":"b1","e":918.23,"v":246.5},{"s":"b1","e":917.98,"v":271.3},{"s":"b1","e":917.78,"v":300.5},{"s":"b1","e":917.58,"v":336.8},{"s":"b1","e":917.43,"v":364},{"s":"b1","e":917.28,"v":385.5},{"s":"b1","e":917.13,"v":392.9},{"s":"b1","e":916.98,"v":383.4},{"s":"b1","e":916.83,"v":360.1},{"s":"b1","e":916.68,"v":331.2},{"s":"b1","e":916.48,"v":292.8},{"s":"b1","e":916.28,"v":261.7},{"s":"b1","e":916.03,"v":235.2},{"s":"b1","e":915.73,"v":223.9},{"s":"b1","e":915.33,"v":212.2},{"s":"b1","e":914.73,"v":204.2},{"s":"b1","e":913.93,"v":198.4},{"s":"b1","e":912.63,"v":194.1},{"s":"b1","e":910.63,"v":191.1},{"s":"b1","e":908,"v":188.3},{"s":"b1","e":905,"v":179.2},
{"s":"b2","e":915,"v":194.6},{"s":"b2","e":913,"v":195.9},{"s":"b2","e":912,"v":200.4},{"s":"b2","e":911.5,"v":205},{"s":"b2","e":911,"v":211.3},{"s":"b2","e":910.5,"v":218.7},{"s":"b2","e":910,"v":227.8},{"s":"b2","e":909.5,"v":237.6},{"s":"b2","e":909,"v":246.7},{"s":"b2","e":908.5,"v":252.3},{"s":"b2","e":908,"v":254.5},{"s":"b2","e":907.5,"v":250.6},{"s":"b2","e":907,"v":243.2},{"s":"b2","e":906.5,"v":232.3},{"s":"b2","e":906,"v":220.8},{"s":"b2","e":905.5,"v":211},{"s":"b2","e":905,"v":203},{"s":"b2","e":904.5,"v":195},{"s":"b2","e":904,"v":189},{"s":"b2","e":903.5,"v":184},{"s":"b2","e":903,"v":179},{"s":"b2","e":902,"v":170},{"s":"b2","e":901,"v":162},{"s":"b2","e":900,"v":154},{"s":"b2","e":899,"v":144},{"s":"b2","e":898,"v":136},
{"s":"b3","e":907.72,"v":186.8},{"s":"b3","e":905.72,"v":183.4},{"s":"b3","e":904.42,"v":181.4},{"s":"b3","e":903.62,"v":181.9},{"s":"b3","e":903.02,"v":184.6},{"s":"b3","e":902.62,"v":191.1},{"s":"b3","e":902.32,"v":198},{"s":"b3","e":902.07,"v":217.5},{"s":"b3","e":901.87,"v":241.1},{"s":"b3","e":901.67,"v":270.4},{"s":"b3","e":901.52,"v":292.6},{"s":"b3","e":901.37,"v":310},{"s":"b3","e":901.22,"v":316},{"s":"b3","e":901.07,"v":308.2},{"s":"b3","e":900.92,"v":289},{"s":"b3","e":900.77,"v":265},{"s":"b3","e":900.57,"v":233.2},{"s":"b3","e":900.37,"v":206.9},{"s":"b3","e":900.12,"v":184.4},{"s":"b3","e":899.82,"v":173.2},{"s":"b3","e":899.42,"v":160.5},{"s":"b3","e":898.82,"v":149.5},{"s":"b3","e":898.02,"v":139.8},{"s":"b3","e":896.72,"v":131.5},{"s":"b3","e":894.72,"v":127.2},
{"s":"b4","e":905.88,"v":183.2},{"s":"b4","e":903.63,"v":177},{"s":"b4","e":902.28,"v":173.1},{"s":"b4","e":901.38,"v":173.9},{"s":"b4","e":900.93,"v":177.6},{"s":"b4","e":900.48,"v":188.3},{"s":"b4","e":900.03,"v":215.2},{"s":"b4","e":899.805,"v":237},{"s":"b4","e":899.58,"v":266},{"s":"b4","e":899.355,"v":300.9},{"s":"b4","e":899.13,"v":337.2},{"s":"b4","e":898.905,"v":367.2},{"s":"b4","e":898.68,"v":377.8},{"s":"b4","e":898.455,"v":363.8},{"s":"b4","e":898.23,"v":330.6},{"s":"b4","e":898.005,"v":290.5},{"s":"b4","e":897.78,"v":252.2},{"s":"b4","e":897.555,"v":220},{"s":"b4","e":897.33,"v":194.6},{"s":"b4","e":896.88,"v":163},{"s":"b4","e":896.43,"v":148.4},{"s":"b4","e":895.98,"v":141.1},{"s":"b4","e":895.08,"v":134},{"s":"b4","e":893.73,"v":129},{"s":"b4","e":891.48,"v":124.1},
{"s":"b5","e":896,"v":128.9},{"s":"b5","e":894,"v":130.6},{"s":"b5","e":893,"v":136.9},{"s":"b5","e":892.5,"v":143.5},{"s":"b5","e":892,"v":152.7},{"s":"b5","e":891.5,"v":164.6},{"s":"b5","e":891,"v":178.5},{"s":"b5","e":890.5,"v":192.1},{"s":"b5","e":890,"v":203.5},{"s":"b5","e":889.5,"v":207.9},{"s":"b5","e":889,"v":203.5},{"s":"b5","e":888.5,"v":190.9},{"s":"b5","e":888,"v":174.4},{"s":"b5","e":887.5,"v":156.6},{"s":"b5","e":887,"v":140.5},{"s":"b5","e":886.5,"v":127.2},{"s":"b5","e":886,"v":117.3},{"s":"b5","e":885.5,"v":109.8},{"s":"b5","e":885,"v":104.3},{"s":"b5","e":884,"v":96.5},{"s":"b5","e":883,"v":89.9},{"s":"b5","e":881,"v":76.5},{"s":"b5","e":879,"v":72.5},
{"s":"b6","e":889,"v":118.4},{"s":"b6","e":887.1,"v":111},{"s":"b6","e":885.9,"v":108.7},{"s":"b6","e":885.1,"v":110},{"s":"b6","e":884.55,"v":114.7},{"s":"b6","e":884.15,"v":124},{"s":"b6","e":883.85,"v":134.6},{"s":"b6","e":883.6,"v":161.6},{"s":"b6","e":883.42,"v":190.7},{"s":"b6","e":883.25,"v":224.2},{"s":"b6","e":883.1,"v":254.7},{"s":"b6","e":882.95,"v":278.9},{"s":"b6","e":882.8,"v":287.7},{"s":"b6","e":882.65,"v":276.7},{"s":"b6","e":882.5,"v":250.4},{"s":"b6","e":882.35,"v":217.9},{"s":"b6","e":882.18,"v":182.3},{"s":"b6","e":882,"v":150.8},{"s":"b6","e":881.75,"v":121.2},{"s":"b6","e":881.45,"v":107.6},{"s":"b6","e":881.05,"v":94.5},{"s":"b6","e":880.5,"v":85.9},{"s":"b6","e":879.7,"v":79.3},{"s":"b6","e":878.5,"v":75.3},{"s":"b6","e":876.6,"v":72.9},{"s":"b6","e":875,"v":72.3}
],
"ce3":[
{"s":"O1","e":914,"v":531.2},{"s":"O1","e":912,"v":530.1},{"s":"O1","e":911,"v":530.5},{"s":"O1","e":910,"v":533.3},{"s":"O1","e":909.5,"v":536.1},{"s":"O1","e":909,"v":541.8},{"s":"O1","e":908.5,"v":550.4},{"s":"O1","e":908,"v":563.3},{"s":"O1","e":907.5,"v":579.5},{"s":"O1","e":907,"v":597.8},{"s":"O1","e":906.5,"v":614.9},{"s":"O1","e":906,"v":626.7},{"s":"O1","e":905.5,"v":628.5},{"s":"O1","e":905,"v":619.7},{"s":"O1","e":904.5,"v":601.9},{"s":"O1","e":904,"v":578.8},{"s":"O1","e":903.5,"v":554.5},{"s":"O1","e":903,"v":532.3},{"s":"O1","e":902.5,"v":513.9},{"s":"O1","e":902,"v":499.8},{"s":"O1","e":901.5,"v":489.6},{"s":"O1","e":901,"v":482.3},{"s":"O1","e":900,"v":472},{"s":"O1","e":899,"v":465.1},{"s":"O1","e":897,"v":457.7},{"s":"O1","e":895,"v":455.8},
{"s":"O2","e":909,"v":526.5},{"s":"O2","e":907,"v":518.9},{"s":"O2","e":906.5,"v":517.6},{"s":"O2","e":906,"v":517.6},{"s":"O2","e":905.5,"v":517.9},{"s":"O2","e":905,"v":520.3},{"s":"O2","e":904.5,"v":524.5},{"s":"O2","e":904,"v":530.3},{"s":"O2","e":903.5,"v":537},{"s":"O2","e":903,"v":542.3},{"s":"O2","e":902.5,"v":544.9},{"s":"O2","e":902,"v":542.9},{"s":"O2","e":901.5,"v":536},{"s":"O2","e":901,"v":524.8},{"s":"O2","e":900.5,"v":511.9},{"s":"O2","e":900,"v":498.7},{"s":"O2","e":899.5,"v":486.6},{"s":"O2","e":899,"v":476.7},{"s":"O2","e":898.5,"v":469.2},{"s":"O2","e":898,"v":463.5},{"s":"O2","e":897.5,"v":460.7},{"s":"O2","e":897,"v":458.5},{"s":"O2","e":896,"v":456.7},{"s":"O2","e":894,"v":455.4},
{"s":"O3","e":895,"v":456.7},{"s":"O3","e":893,"v":457},{"s":"O3","e":892,"v":459.8},{"s":"O3","e":891.5,"v":462.6},{"s":"O3","e":891,"v":469.2},{"s":"O3","e":890.5,"v":479.5},{"s":"O3","e":890,"v":496.1},{"s":"O3","e":889.5,"v":517.6},{"s":"O3","e":889,"v":544.2},{"s":"O3","e":888.5,"v":572.3},{"s":"O3","e":888,"v":596.5},{"s":"O3","e":887.5,"v":612.1},{"s":"O3","e":887,"v":613.6},{"s":"O3","e":886.5,"v":598.6},{"s":"O3","e":886,"v":570.6},{"s":"O3","e":885.5,"v":536.7},{"s":"O3","e":885,"v":502.1},{"s":"O3","e":884.5,"v":469.3},{"s":"O3","e":884,"v":443.1},{"s":"O3","e":883.5,"v":423.5},{"s":"O3","e":883,"v":409.8},{"s":"O3","e":882.5,"v":400.6},{"s":"O3","e":882,"v":393.7},{"s":"O3","e":881,"v":387.2},{"s":"O3","e":880,"v":384.4},{"s":"O3","e":878,"v":382.3},{"s":"O3","e":876,"v":381.5},
{"s":"O4","e":890,"v":449.7},{"s":"O4","e":889,"v":446.1},{"s":"O4","e":888,"v":441.7},{"s":"O4","e":887.5,"v":440.7},{"s":"O4","e":887,"v":442},{"s":"O4","e":886.5,"v":445},{"s":"O4","e":886,"v":451.9},{"s":"O4","e":885.5,"v":461.8},{"s":"O4","e":885,"v":474.6},{"s":"O4","e":884.5,"v":486.8},{"s":"O4","e":884,"v":493.8},{"s":"O4","e":883.5,"v":492.8},{"s":"O4","e":883,"v":482},{"s":"O4","e":882.5,"v":463.9},{"s":"O4","e":882,"v":442.5},{"s":"O4","e":881.5,"v":423.3},{"s":"O4","e":881,"v":407.9},{"s":"O4","e":880.5,"v":397.2},{"s":"O4","e":880,"v":390.1},{"s":"O4","e":879.5,"v":386.4},{"s":"O4","e":879,"v":384.1},{"s":"O4","e":878,"v":382.5},{"s":"O4","e":876,"v":381.5},
{"s":"o1","e":908,"v":187.4},{"s":"o1","e":907,"v":187.3},{"s":"o1","e":906.5,"v":188.9},{"s":"o1","e":906,"v":192.9},{"s":"o1","e":905.5,"v":199.1},{"s":"o1","e":905,"v":207.5},{"s":"o1","e":904.5,"v":215.6},{"s":"o1","e":904,"v":221},{"s":"o1","e":903.6,"v":221},{"s":"o1","e":903,"v":213.6},{"s":"o1","e":902.5,"v":201.8},{"s":"o1","e":902,"v":188.5},{"s":"o1","e":901.5,"v":176.3},{"s":"o1","e":901,"v":166.2},{"s":"o1","e":900.5,"v":158.7},{"s":"o1","e":900,"v":153},{"s":"o1","e":899,"v":141.7},
{"s":"o2","e":905,"v":178.9},{"s":"o2","e":904,"v":177.6},{"s":"o2","e":903.5,"v":178},{"s":"o2","e":903,"v":179.5},{"s":"o2","e":902.5,"v":181},{"s":"o2","e":902,"v":182},{"s":"o2","e":901.5,"v":181},{"s":"o2","e":901,"v":177.1},{"s":"o2","e":900.5,"v":170.6},{"s":"o2","e":900,"v":162.9},{"s":"o2","e":899.5,"v":153.8},{"s":"o2","e":899,"v":145.6},{"s":"o2","e":898.5,"v":139.9},{"s":"o2","e":898,"v":135.2},{"s":"o2","e":897,"v":128.8},
{"s":"o3","e":891,"v":121.2},{"s":"o3","e":890,"v":119.9},{"s":"o3","e":889,"v":120.6},{"s":"o3","e":888.5,"v":122.2},{"s":"o3","e":888,"v":126.2},{"s":"o3","e":887.5,"v":133.6},{"s":"o3","e":887,"v":144},{"s":"o3","e":886.5,"v":156.4},{"s":"o3","e":886,"v":167.5},{"s":"o3","e":885.5,"v":173.3},{"s":"o3","e":885.2,"v":173.4},{"s":"o3","e":885,"v":171.8},{"s":"o3","e":884.5,"v":162.6},{"s":"o3","e":884,"v":147.6},{"s":"o3","e":883.5,"v":130.8},{"s":"o3","e":883,"v":114.8},{"s":"o3","e":882.5,"v":100.3},{"s":"o3","e":882,"v":89.4},{"s":"o3","e":881.5,"v":82.6},{"s":"o3","e":881,"v":77.7},{"s":"o3","e":880,"v":73.5},{"s":"o3","e":878,"v":71.5},
{"s":"o4","e":887,"v":107.2},{"s":"o4","e":886,"v":104.9},{"s":"o4","e":885.5,"v":105.3},{"s":"o4","e":885,"v":107.6},{"s":"o4","e":884.5,"v":111.6},{"s":"o4","e":884,"v":116.2},{"s":"o4","e":883.5,"v":119.7},{"s":"o4","e":883,"v":119.9},{"s":"o4","e":882.5,"v":114.8},{"s":"o4","e":882,"v":106},{"s":"o4","e":881.5,"v":96.7},{"s":"o4","e":881,"v":87.4},{"s":"o4","e":880.5,"v":80.9},{"s":"o4","e":880,"v":76.3},{"s":"o4","e":879.5,"v":73.9},{"s":"o4","e":879,"v":72.4},{"s":"o4","e":878,"v":71.3}
],
"lab":[{"e":923.84,"v":484,"t":"CeO₂-AN-tEG"},{"e":923.8,"v":161,"t":"JRC-CEO-5"}]
},
"encoding":{
"x":{"field":"e","type":"quantitative","scale":{"domain":[925,875]},"axis":{"title":"Binding energy (eV)","values":[925,915,905,895,885,875],"tickSize":6,"tickWidth":1.5,"tickColor":"#222","domainColor":"#222","domainWidth":1.5,"labelFontSize":20,"labelColor":"#000","labelFlush":false,"labelPadding":4,"titleFontSize":20,"titleFontWeight":"normal","titleColor":"#000","titlePadding":9}},
"y":{"field":"v","type":"quantitative","scale":{"domain":[0,674]},"axis":{"title":"Counts (a.u.)","ticks":false,"labels":false,"domainColor":"#222","domainWidth":1.5,"titleFontSize":20,"titleFontWeight":"normal","titleColor":"#000","titlePadding":3}}
},
"layer":[
{"data":{"name":"obs"},"mark":{"type":"line","strokeWidth":1.4},"encoding":{"detail":{"field":"s"},"color":{"datum":"observed","type":"nominal","scale":{"domain":["observed","simulated","Shirley base line","Ce⁴⁺","Ce³⁺"],"range":["#1bb27f","#000000","#8b3d9f","#3d62c2","#f25a2a"]},"legend":{"orient":"none","legendX":20.4,"legendY":549,"title":null,"padding":0,"symbolType":"M-3.6,0H3.6","symbolSize":100,"symbolStrokeWidth":2,"labelFontSize":20,"labelFont":"Liberation Sans","labelOffset":20.6,"rowPadding":2.5,"encode":{"labels":{"update":{"fill":{"scale":"color","field":"value"}}}}}}}},
{"data":{"name":"sim"},"mark":{"type":"line","strokeWidth":1.6,"interpolate":"monotone"},"encoding":{"detail":{"field":"s"},"color":{"datum":"simulated","type":"nominal"}}},
{"data":{"name":"ce4"},"mark":{"type":"line","strokeWidth":1.4,"interpolate":"monotone"},"encoding":{"detail":{"field":"s"},"color":{"datum":"Ce⁴⁺","type":"nominal"}}},
{"data":{"name":"ce3"},"mark":{"type":"line","strokeWidth":1.4,"interpolate":"monotone"},"encoding":{"detail":{"field":"s"},"color":{"datum":"Ce³⁺","type":"nominal"}}},
{"data":{"name":"base"},"mark":{"type":"line","strokeWidth":1.8,"interpolate":"monotone"},"encoding":{"detail":{"field":"s"},"color":{"datum":"Shirley base line","type":"nominal"}}},
{"data":{"name":"lab"},"mark":{"type":"text","align":"left","baseline":"alphabetic","fontSize":20,"color":"#000"},"encoding":{"text":{"field":"t"}}}
]
}
